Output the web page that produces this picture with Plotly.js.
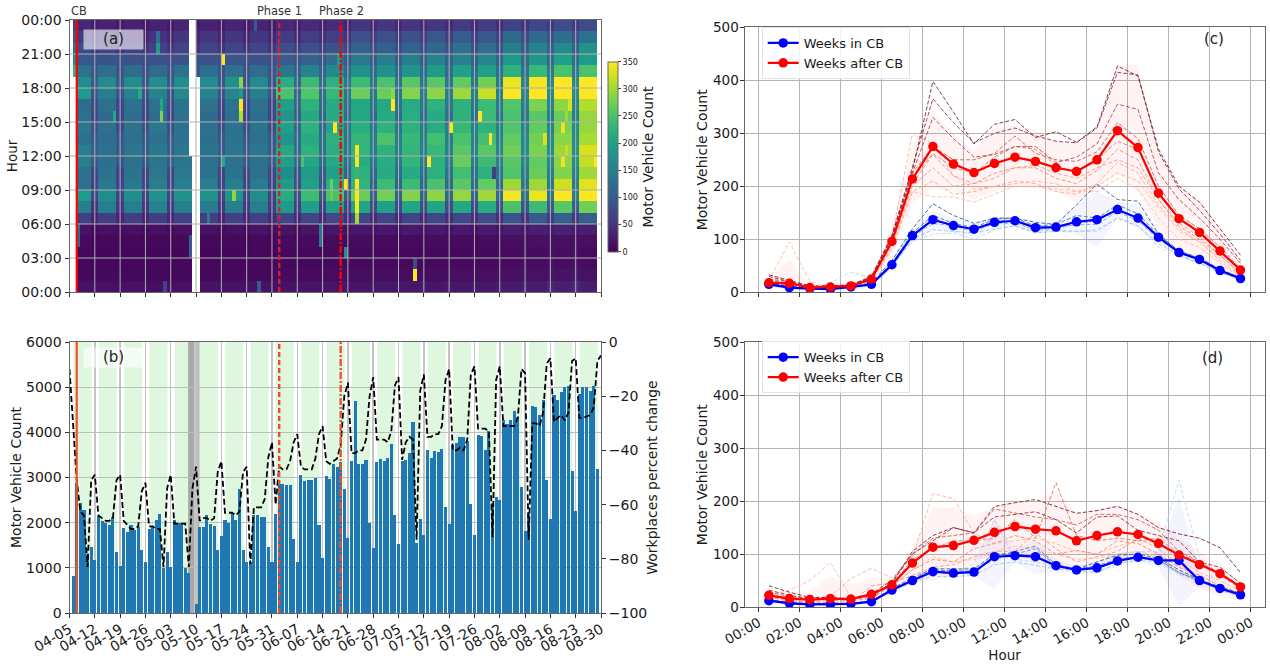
<!DOCTYPE html>
<html><head><meta charset="utf-8">
<script src="https://cdn.plot.ly/plotly-3.0.1.min.js"></script>
<style>html,body{margin:0;padding:0;background:#fff}</style></head>
<body><div id="chart" style="width:1270px;height:667px"></div>
<script>
const dateTicks=["04-05","04-12","04-19","04-26","05-03","05-10","05-17","05-24","05-31","06-07","06-14","06-21","06-28","07-05","07-12","07-19","07-26","08-02","08-09","08-16","08-23","08-30"];
const hourTicks=["00:00","03:00","06:00","09:00","12:00","15:00","18:00","21:00","00:00"];
const clockTicks=["00:00","02:00","04:00","06:00","08:00","10:00","12:00","14:00","16:00","18:00","20:00","22:00","00:00"];
const cbDay=2, phase1Day=58, phase2Day=75;

// daily totals, day 1 .. day 146 (null = missing)
const dailyCount=[830,2880,2430,2280,1300,1460,1170,2140,2030,2000,1950,2120,1360,1040,1890,1800,1940,1830,1900,1390,1120,1870,1900,2060,2200,1000,1350,1020,2060,2000,2000,1000,880,null,200,1910,1900,2160,1970,1930,1390,1710,2070,2000,2210,2070,2750,1390,1120,1120,2170,2160,2120,2130,1470,1130,2190,2860,2850,2830,2830,1640,1140,3060,2930,2940,2950,3000,1950,1210,3040,2975,3300,3225,3335,2745,1660,3370,4690,3305,3290,3380,1985,1430,3350,3415,3370,3425,3740,2160,1535,3360,3395,3540,4220,1540,2080,1730,3615,3440,3590,3570,3630,2350,1970,3730,3760,3890,3890,3800,2410,1720,3950,3910,3615,4020,2435,2560,2495,4280,4190,4265,4480,4340,2790,1820,2200,4590,4550,4375,4710,2950,2090,4820,4725,4885,5005,5030,3150,2265,4855,4995,4995,4920,5020,3190];
// workplaces percent change, day 0 .. day 147
const workplaces=[-10,-32,-51,-62.5,-64,-83,-51,-49,-64,-65,-66,-66,-65,-51,-49,-66,-67.5,-69,-69,-68,-55,-52,-68,-68,-69,-69,-83,-54,-49,-67,-67,-67,-67,-83,-54,-46,-66,-65,-65,-66,-65,-48,-44,-63,-63,-63,-64,-62.5,-48,-46,-82,-61,-61,-61,-58,-42.5,-37,-60,-46,-47,-47,-44,-37,-34,-46,-47,-47,-47,-43,-34,-31,-44,-45,-44,-43,-38,-20,-15,-41,-41,-40,-40,-36,-20,-13,-36,-36,-36,-37,-33,-16,-13,-43.5,-37,-35,-36,-73,-18,-12,-35,-35,-34,-34,-31,-14,-10,-40,-40,-39,-40,-36,-12,-9,-32,-32,-32,-33,-72,-14,-9,-31,-31,-31,-31,-28,-10,-11.5,-73,-30,-30,-31,-26,-8,-6,-29.5,-28,-27,-29,-26,-7,-6,-28,-28,-27.5,-27,-24,-7,-5];

// heatmap: by hour (row) and week (21 columns), weekday level
const heatWeekday=[
[15,14,14,13,14,15,15,16,16,17,18,18,20,20,18,20,20,24,26,28,27],
[9,9,8,9,9,8,9,9,10,10,11,12,12,12,12,13,13,15,16,17,16],
[7,7,6,7,7,6,7,7,8,8,8,8,9,9,9,9,9,10,11,11,11],
[7,6,6,6,6,6,6,7,7,7,8,8,8,8,8,8,9,10,10,11,10],
[10,8,8,8,9,8,9,9,10,10,10,11,10,10,11,11,11,13,14,15,14],
[16,14,14,14,15,14,15,17,17,18,20,20,21,22,22,23,24,28,30,34,30],
[65,62,62,64,66,62,65,66,72,72,75,72,70,72,75,75,78,90,100,105,105],
[150,150,150,155,150,145,150,150,190,195,200,205,200,205,205,210,215,250,240,260,275],
[190,170,172,175,178,175,180,170,215,240,250,270,275,285,290,295,300,345,340,350,350],
[130,140,142,150,148,145,150,145,190,200,220,230,240,240,250,260,265,300,300,325,335],
[130,132,135,138,140,132,135,130,170,190,200,225,215,215,225,245,225,255,270,285,300],
[150,128,130,135,135,130,132,130,195,205,210,215,220,230,225,270,240,260,265,290,320],
[150,130,138,140,140,135,140,140,210,225,220,230,225,230,235,260,260,275,280,300,330],
[130,125,130,132,130,128,135,130,180,215,225,230,250,235,245,250,245,265,275,290,305],
[140,130,135,138,130,130,135,135,200,225,205,220,225,225,215,235,225,255,265,280,295],
[130,120,125,125,130,120,128,125,180,210,215,210,215,220,215,225,240,250,260,270,295],
[125,130,130,132,135,130,135,130,200,225,215,210,210,215,225,225,240,255,280,290,310],
[190,150,155,155,160,155,160,150,250,255,235,270,270,285,290,300,320,350,350,350,350],
[170,165,168,170,170,165,175,165,220,240,225,240,250,260,260,265,275,340,345,350,350],
[130,125,125,120,130,125,130,125,140,155,165,175,175,180,190,200,200,225,235,250,250],
[95,90,85,85,90,88,92,88,100,110,125,140,145,150,155,155,160,185,180,200,190],
[78,70,68,68,72,70,72,72,80,85,90,110,105,110,115,130,125,150,155,165,175],
[60,55,50,52,55,52,55,55,60,62,65,85,85,90,95,100,95,120,120,125,130],
[38,32,30,32,35,32,35,35,40,42,42,55,55,52,55,60,60,70,75,80,80]];
// same shape, Saturday/Sunday level
const heatWeekend=[
[14,13,13,13,14,14,15,15,17,18,20,20,22,22,22,24,24,30,38,42,40],
[8,8,8,8,8,8,9,9,10,10,11,12,12,12,13,14,14,18,20,22,20],
[6,6,6,6,6,6,6,6,7,8,8,9,10,10,10,11,11,13,14,15,14],
[5,5,5,5,5,5,5,5,6,7,7,8,8,9,9,9,9,12,13,15,14],
[6,6,6,6,6,6,6,6,7,8,8,9,9,9,10,10,10,13,14,16,15],
[10,10,10,10,10,10,10,11,12,13,14,15,15,16,16,16,17,21,24,26,24],
[35,35,35,38,38,35,38,38,40,42,42,42,42,42,44,45,46,50,55,58,56],
[55,58,58,60,60,58,60,60,65,70,72,78,78,80,82,82,85,95,100,105,105],
[75,72,72,75,75,72,75,72,85,92,100,108,110,112,115,118,120,135,135,145,150],
[72,70,72,72,72,70,72,72,85,95,100,110,112,115,118,120,125,135,140,145,150],
[75,70,72,75,75,70,72,72,90,100,110,120,125,128,130,132,135,145,150,155,160],
[100,95,98,100,100,95,100,100,120,125,130,140,145,145,150,150,155,160,165,170,175],
[105,98,100,102,102,98,102,100,125,130,140,150,152,155,155,160,160,165,170,175,180],
[100,95,98,98,98,95,98,98,125,130,135,145,148,150,150,155,155,160,165,170,175],
[85,78,80,82,80,78,80,80,115,125,135,140,140,145,150,150,155,155,160,165,170],
[78,70,72,72,72,70,75,72,105,115,120,125,125,125,130,130,135,140,145,150,155],
[82,75,78,78,78,75,78,75,115,125,130,135,135,140,140,140,145,150,155,160,165],
[95,88,90,90,90,88,90,88,120,130,135,140,140,145,145,148,150,160,165,170,175],
[100,95,95,95,95,92,95,92,120,130,135,138,138,140,140,142,145,155,160,165,170],
[95,88,88,88,90,88,90,88,105,112,118,120,120,122,122,125,128,135,140,145,150],
[90,85,82,82,85,82,85,82,90,95,98,100,100,105,105,108,108,120,122,128,130],
[55,50,50,50,52,50,52,50,60,65,70,80,80,82,85,85,85,100,105,110,112],
[40,35,35,35,38,35,36,36,42,45,50,62,62,65,65,68,68,78,85,88,90],
[26,23,22,23,24,23,24,24,28,30,32,38,38,40,40,42,42,50,55,58,58]];
// individual cells: [day, hour row, value]
const heatCells=[[1,19,230],[1,20,170],[1,21,130],[1,22,100],[1,23,70],[42,20,350],[47,18,290],[47,17,190],[47,16,350],[47,15,310],[25,15,280],[25,16,210],[12,15,210],[24,21,190],[24,22,130],[19,17,210],[42,11,210],[45,8,290],[64,11,250],[73,14,350],[72,8,270],[72,9,270],[69,4,140],[69,5,140],[2,4,130],[2,5,130],[51,23,100],[52,0,100],[26,0,70],[38,6,150],[33,3,100],[33,4,100],[74,20,190],[76,9,350],[76,3,170],[79,12,350],[79,11,350],[79,10,230],[79,9,350],[79,8,350],[79,7,350],[79,6,300],[89,17,290],[89,16,350],[99,11,350],[95,1,350],[95,2,80],[105,14,350],[113,15,350],[116,13,350],[117,10,60],[131,13,330],[136,14,340],[136,11,340],[137,15,300],[138,16,330],[137,12,320],[145,11,350]];
// [day, first hour, end hour] without data
const heatGaps=[[0,0,24],[1,0,19],[33,12,24],[34,0,24],[35,0,19],[146,0,24]];

const hourX=[0.5,1.5,2.5,3.5,4.5,5.5,6.5,7.5,8.5,9.5,10.5,11.5,12.5,13.5,14.5,15.5,16.5,17.5,18.5,19.5,20.5,21.5,22.5,23.5];
const cMeanBlue=[15,9,7,6,10,15,52,107,137,126,119,132,135,122,123,133,137,156,140,104,75,62,41,26];
const cMeanRed=[18,17,9,10,12,25,96,214,275,242,226,243,255,247,235,228,250,305,273,187,139,113,78,42];
const dMeanBlue=[12,7,5,5,6,10,32,50,67,64,66,95,97,95,78,70,74,87,94,88,88,50,35,23];
const dMeanRed=[22,16,14,16,15,24,42,83,113,116,126,141,152,147,144,125,135,142,137,120,98,80,63,38];

const cRedUpper=[28,62,13,13,14,30,125,280,340,300,265,310,315,305,285,285,310,430,430,265,200,175,120,60];
const cRedLower=[10,5,6,6,8,18,65,170,195,190,175,190,200,195,190,170,195,225,190,120,80,60,40,22];
const cBlueUpper=[20,13,10,15,22,25,60,122,155,140,130,142,142,132,130,165,190,172,165,112,80,68,45,30];
const cBlueLower=[9,6,5,3,5,10,45,95,118,113,105,122,125,112,115,110,85,140,120,92,68,53,35,22];
const dRedUpper=[28,28,30,58,42,55,55,110,188,188,172,190,198,200,220,178,185,195,175,160,130,105,80,50];
const dRedLower=[14,8,6,5,5,12,28,45,50,58,85,100,105,95,80,75,85,88,100,90,60,35,20,12];
const dBlueUpper=[15,9,8,7,8,12,37,58,75,72,75,170,110,125,90,78,88,100,105,105,210,65,40,28];
const dBlueLower=[8,5,3,3,4,8,27,45,60,58,58,35,85,62,65,62,65,75,85,75,0,38,30,18];

const cRedWeeks=[
[22,95,20,10,10,22,80,190,180,180,170,185,200,200,195,190,190,215,195,140,100,85,55,28],
[15,15,8,8,10,20,105,300,280,220,195,200,205,210,205,190,200,225,210,160,115,95,60,30],
[16,15,8,9,11,20,85,190,210,185,190,200,210,205,190,185,205,245,225,165,120,95,65,32],
[18,16,9,9,12,22,90,200,235,200,205,215,235,240,225,215,235,250,235,175,130,105,70,35],
[17,14,8,8,10,23,92,205,260,220,205,225,235,235,215,205,230,270,250,175,125,100,70,36],
[20,16,9,10,12,25,95,215,262,235,225,255,275,270,240,225,250,285,270,190,140,115,80,42],
[22,18,10,10,13,27,100,225,275,250,250,262,295,262,250,247,265,320,290,200,145,120,85,45],
[25,20,11,11,13,28,105,225,330,290,255,260,275,275,245,255,280,355,345,225,175,140,100,55],
[30,20,12,12,14,30,108,235,365,320,282,300,310,295,285,282,310,415,410,265,195,155,110,60],
[33,22,12,12,14,28,105,230,398,340,280,317,326,292,303,283,312,427,408,270,200,170,120,70]];
const cBlueWeeks=[
[14,10,8,18,38,28,50,95,110,112,100,118,125,115,118,115,115,140,125,85,68,55,38,25],
[13,8,6,6,8,14,50,100,118,115,112,120,125,112,115,115,118,140,125,92,70,55,38,24],
[16,9,7,7,9,15,52,105,130,125,115,130,130,118,120,128,128,152,135,100,75,60,40,25],
[15,10,7,7,9,16,55,108,135,128,118,135,135,120,122,130,135,155,140,105,75,62,42,26],
[16,10,8,8,10,15,55,112,145,130,122,138,140,125,128,145,140,165,148,108,78,65,44,27],
[17,11,8,8,10,17,60,120,167,145,130,140,140,132,128,165,204,175,172,110,78,62,42,27]];
const dRedWeeks=[
[22,32,50,84,18,22,40,70,95,85,90,105,115,110,100,90,92,100,105,95,70,50,38,20],
[25,18,18,20,54,73,55,95,214,205,140,120,125,130,120,105,100,115,125,120,90,65,50,30],
[14,10,8,9,9,40,45,60,75,80,95,105,105,140,110,85,95,105,130,110,80,50,35,22],
[18,12,10,12,12,16,40,70,90,85,110,120,135,125,100,107,100,125,120,100,75,60,40,25],
[20,15,14,15,15,18,42,90,110,125,125,130,165,130,235,135,125,130,125,130,100,85,60,35],
[28,20,15,15,16,20,45,100,130,135,140,185,177,170,165,155,175,175,165,145,105,85,65,40],
[32,22,16,17,16,25,50,100,125,150,140,170,175,180,165,140,170,172,145,135,125,85,75,45],
[40,28,18,18,15,22,45,105,135,150,140,190,197,203,190,177,182,190,175,150,138,130,112,65]];
const dBlueWeeks=[
[12,7,6,5,6,9,32,50,65,62,82,165,90,85,75,70,85,100,105,105,240,95,35,23],
[11,6,5,4,5,9,30,47,58,57,60,80,85,78,72,68,65,82,88,85,62,48,32,20],
[13,7,5,5,6,10,33,52,68,65,68,90,100,110,78,72,75,88,95,88,65,50,35,24],
[12,8,6,5,7,11,33,52,70,68,68,95,105,115,80,72,78,90,95,90,65,50,36,25],
[14,8,6,6,7,11,35,55,72,72,72,100,100,95,78,72,85,98,100,92,70,52,38,26]];
const redShades=["#ffb9a3","#ffaf97","#fba48c","#f59680","#ee8672","#e07060","#c85a52","#a84048","#8a2c3c","#6f1c30"];
const blueShades=["#b5d8f0","#98c6e8","#74aedc","#5594cc","#3b78b4","#2c5a96"];

/* ---------- layout helpers ---------- */
const W=1270,H=667;
const pxX=p=>p/W, pxY=p=>1-p/H;
const boxA={l:69.5,r:601,t:20,b:292}, boxB={l:69.5,r:601,t:342,b:613}, boxC={l:744.5,r:1264.5,t:27.3,b:292.3}, boxD={l:744.5,r:1264.5,t:342.3,b:607};
const dom=b=>({x:[pxX(b.l),pxX(b.r)],y:[pxY(b.b),pxY(b.t)]});
const TXT="#1a1a1a", FRAME="#666666", GRID="#b4b4b4";
const tickFont={size:14,color:TXT,family:"DejaVu Sans"};
const tickFontR={size:13.5,color:TXT,family:"DejaVu Sans"};
const titleFont={size:14,color:TXT,family:"DejaVu Sans"};

/* ---------- heatmap matrix ---------- */
const dayCols=[...Array(148).keys()];
const z=heatWeekday.map((row,h)=>dayCols.map(d=>{
  if(d<1) return null;
  const wk=Math.min(20,Math.floor((d-1)/7)), dow=(d-1)%7;
  return dow<=4 ? row[wk] : heatWeekend[h][wk];
}));
heatCells.forEach(([d,h,v])=>{z[h][d]=v});
heatGaps.forEach(([d,a,b])=>{for(let h=a;h<b;h++) z[h][d]=null});

const traces=[];
traces.push({type:"heatmap",x:dayCols.map(d=>d+0.5),y:heatWeekday.map((_,h)=>h+0.5),z:z,zmin:0,zmax:350,colorscale:"Viridis",hoverongaps:false,xaxis:"x",yaxis:"y",
  colorbar:{x:pxX(607.7),xanchor:"left",y:pxY(156.7),yanchor:"middle",len:190/H,thickness:10,outlinecolor:FRAME,outlinewidth:1,xpad:0,ypad:0,
    tickvals:[0,50,100,150,200,250,300,350],ticks:"outside",ticklen:3,tickfont:{size:8,color:TXT,family:"DejaVu Sans"}}});

/* ---------- (b) ---------- */
traces.push({type:"bar",x:dailyCount.map((_,i)=>i+1),y:dailyCount,width:0.85,marker:{color:"#1f77b4"},xaxis:"x2",yaxis:"y2",showlegend:false});
traces.push({type:"scatter",mode:"lines",x:workplaces.map((_,i)=>i),y:workplaces,line:{color:"#000",width:1.8,dash:"6px,3px"},xaxis:"x2",yaxis:"y3",showlegend:false});

/* ---------- (c), (d) ---------- */
function band(up,lo,col,xa,ya){
  traces.push({type:"scatter",mode:"lines",x:hourX,y:lo,line:{width:0},xaxis:xa,yaxis:ya,showlegend:false,hoverinfo:"skip"});
  traces.push({type:"scatter",mode:"lines",x:hourX,y:up,line:{width:0},fill:"tonexty",fillcolor:col,xaxis:xa,yaxis:ya,showlegend:false,hoverinfo:"skip"});
}
function weeks(list,shades,xa,ya){
  list.forEach((y,i)=>{
    const s=shades[Math.round(i*(shades.length-1)/(list.length-1))];
    traces.push({type:"scatter",mode:"lines",x:hourX,y:y,opacity:0.85,line:{color:s,width:1,dash:"4px,2px"},xaxis:xa,yaxis:ya,showlegend:false,hoverinfo:"skip"});
  });
}
function panel(redU,redL,bluU,bluL,redW,bluW,mBlue,mRed,xa,ya,leg){
  band(redU,redL,"rgba(255,60,40,0.055)",xa,ya);
  band(bluU,bluL,"rgba(60,60,255,0.06)",xa,ya);
  weeks(redW,redShades,xa,ya);
  weeks(bluW,blueShades,xa,ya);
  traces.push({type:"scatter",mode:"lines+markers",name:"Weeks in CB",x:hourX,y:mBlue,line:{color:"#0000ff",width:2.2},marker:{color:"#0000ff",size:9.5},xaxis:xa,yaxis:ya,legend:leg});
  traces.push({type:"scatter",mode:"lines+markers",name:"Weeks after CB",x:hourX,y:mRed,line:{color:"#ff0000",width:2.2},marker:{color:"#ff0000",size:9.5},xaxis:xa,yaxis:ya,legend:leg});
}
panel(cRedUpper,cRedLower,cBlueUpper,cBlueLower,cRedWeeks,cBlueWeeks,cMeanBlue,cMeanRed,"x3","y4","legend");
panel(dRedUpper,dRedLower,dBlueUpper,dBlueLower,dRedWeeks,dBlueWeeks,dMeanBlue,dMeanRed,"x4","y5","legend2");

/* ---------- shapes ---------- */
const shapes=[];
const weekTickVals=dateTicks.map((_,i)=>i*7);
// grid of (a) sits on top of the cells
weekTickVals.slice(1,-1).forEach(v=>shapes.push({type:"line",xref:"x",yref:"paper",x0:v,x1:v,y0:pxY(boxA.b),y1:pxY(boxA.t),line:{color:"#b0b0b0",width:1},layer:"above"}));
[3,6,9,12,15,18,21].forEach(v=>shapes.push({type:"line",xref:"paper",yref:"y",x0:pxX(boxA.l),x1:pxX(boxA.r),y0:v,y1:v,line:{color:"#b0b0b0",width:1},layer:"above"}));
// weekday shading in (b)
weekTickVals.slice(0,-1).forEach(v=>shapes.push({type:"rect",xref:"x2",yref:"y2",x0:v+1.1,x1:v+6.1,y0:0,y1:6000,fillcolor:"rgba(60,210,60,0.17)",line:{width:0},layer:"below"}));
shapes.push({type:"rect",xref:"x2",yref:"y2",x0:32.8,x1:34.6,y0:0,y1:6000,fillcolor:"#a9a9a9",line:{width:0},layer:"below"});
shapes.push({type:"rect",xref:"x2",yref:"y2",x0:34.6,x1:36,y0:0,y1:6000,fillcolor:"#bcbcbc",line:{width:0},layer:"below"});
// phase markers
[["x","y"],["x2","y2"]].forEach(([xr,yr],i)=>{
  const top=i?6000:24;
  shapes.push({type:"line",xref:xr,yref:yr,x0:cbDay,x1:cbDay,y0:0,y1:top,line:{color:i?"#f2502a":"#ff0000",width:2.2},layer:"above"});
  shapes.push({type:"line",xref:xr,yref:yr,x0:phase1Day,x1:phase1Day,y0:0,y1:top,line:{color:i?"#ee4b26":"#d81e2c",width:2.4,dash:"5px,3px"},layer:"above"});
  shapes.push({type:"line",xref:xr,yref:yr,x0:phase2Day,x1:phase2Day,y0:0,y1:top,line:{color:i?"#f2502a":"#ff0000",width:2.4,dash:"7px,2px,2px,2px"},layer:"above"});
});

/* ---------- annotations ---------- */
const ann=[];
function note(text,px,py,anchor,size,extra){ann.push(Object.assign({xref:"paper",yref:"paper",x:pxX(px),y:pxY(py),text:text,showarrow:false,xanchor:anchor,yanchor:"middle",font:{size:size,color:"#222",family:"DejaVu Sans"}},extra||{}));}
const topFont={font:{size:11.4,color:"#333",family:"DejaVu Sans"}};
note("CB",69,11,"left",11.4,topFont);
note("Phase 1",279,11,"center",11.4,topFont);
note("Phase 2",341,11,"center",11.4,topFont);
note("(a)",113.5,39,"center",15,{width:59,height:18.5,bgcolor:"rgba(255,255,255,0.6)",borderpad:0});
note("(b)",113.5,357.5,"center",15,{width:59,height:18.5,bgcolor:"rgba(255,255,255,0.6)",borderpad:0});
note("(c)",1214,39,"center",15);
note("(d)",1212,358,"center",15);
note("Motor Vehicle Count",647,156.5,"center",14,{font:titleFont,textangle:-90});

const yBase={ticks:"outside",ticklen:4,tickcolor:"#333",linecolor:FRAME,linewidth:1,mirror:true,showline:true,tickfont:tickFont,zeroline:false};
const legendBase={xanchor:"left",yanchor:"top",bgcolor:"rgba(255,255,255,0.85)",bordercolor:"#e4e4e4",borderwidth:1,font:{size:13,color:TXT,family:"DejaVu Sans"},itemwidth:31,traceorder:"normal"};

const layout={
  width:W,height:H,autosize:false,margin:{l:0,r:0,t:0,b:0,pad:0},paper_bgcolor:"#fff",plot_bgcolor:"#fff",
  barmode:"overlay",bargap:0,showlegend:true,shapes:shapes,annotations:ann,
  xaxis:Object.assign({},yBase,{domain:dom(boxA).x,anchor:"y",range:[0,147],tickvals:weekTickVals,showticklabels:false,showgrid:false}),
  yaxis:Object.assign({},yBase,{domain:dom(boxA).y,anchor:"x",range:[0,24],tickvals:[0,3,6,9,12,15,18,21,24],ticktext:hourTicks,showgrid:false,title:{text:"Hour",font:{size:13.5,color:TXT,family:"DejaVu Sans"},standoff:0}}),
  xaxis2:Object.assign({},yBase,{domain:dom(boxB).x,anchor:"y2",range:[0,147],tickvals:weekTickVals,ticktext:dateTicks,tickangle:-30,ticklabelstandoff:-2,showgrid:true,gridcolor:"#c4c4c4",gridwidth:1.5}),
  yaxis2:Object.assign({},yBase,{domain:dom(boxB).y,anchor:"x2",range:[0,6000],tickvals:[0,1000,2000,3000,4000,5000,6000],showgrid:true,gridcolor:"#bdbdbd",mirror:false,title:{text:"Motor Vehicle Count",font:titleFont,standoff:1}}),
  yaxis3:Object.assign({},yBase,{domain:dom(boxB).y,anchor:"x2",overlaying:"y2",side:"right",range:[-100,0],tickvals:[-100,-80,-60,-40,-20,0],ticktext:["\u2212100","\u221280","\u221260","\u221240","\u221220","0"],showgrid:false,mirror:false,title:{text:"Workplaces percent change",font:titleFont,standoff:0}}),
  xaxis3:Object.assign({},yBase,{domain:dom(boxC).x,anchor:"y4",range:[-0.69,24.67],tickvals:clockTicks.map((_,i)=>i*2),showticklabels:false,showgrid:true,gridcolor:GRID}),
  yaxis4:Object.assign({},yBase,{domain:dom(boxC).y,anchor:"x3",range:[0,500],tickvals:[0,100,200,300,400,500],tickfont:tickFontR,ticklabelstandoff:-2,showgrid:true,gridcolor:GRID,title:{text:"Motor Vehicle Count",font:titleFont,standoff:2}}),
  xaxis4:Object.assign({},yBase,{domain:dom(boxD).x,anchor:"y5",range:[-0.69,24.67],tickvals:clockTicks.map((_,i)=>i*2),ticktext:clockTicks,tickangle:-30,tickfont:tickFontR,ticklabelstandoff:-2,showgrid:true,gridcolor:GRID,title:{text:"Hour",font:{size:13.5,color:TXT,family:"DejaVu Sans"},standoff:0}}),
  yaxis5:Object.assign({},yBase,{domain:dom(boxD).y,anchor:"x4",range:[0,500],tickvals:[0,100,200,300,400,500],tickfont:tickFontR,ticklabelstandoff:-2,showgrid:true,gridcolor:GRID,title:{text:"Motor Vehicle Count",font:titleFont,standoff:2}}),
  legend:Object.assign({},legendBase,{x:pxX(761.7),y:pxY(27)}),
  legend2:Object.assign({},legendBase,{x:pxX(761.7),y:pxY(341.2)})
};
Plotly.newPlot("chart",traces,layout,{displayModeBar:false,staticPlot:true});
</script></body></html>
